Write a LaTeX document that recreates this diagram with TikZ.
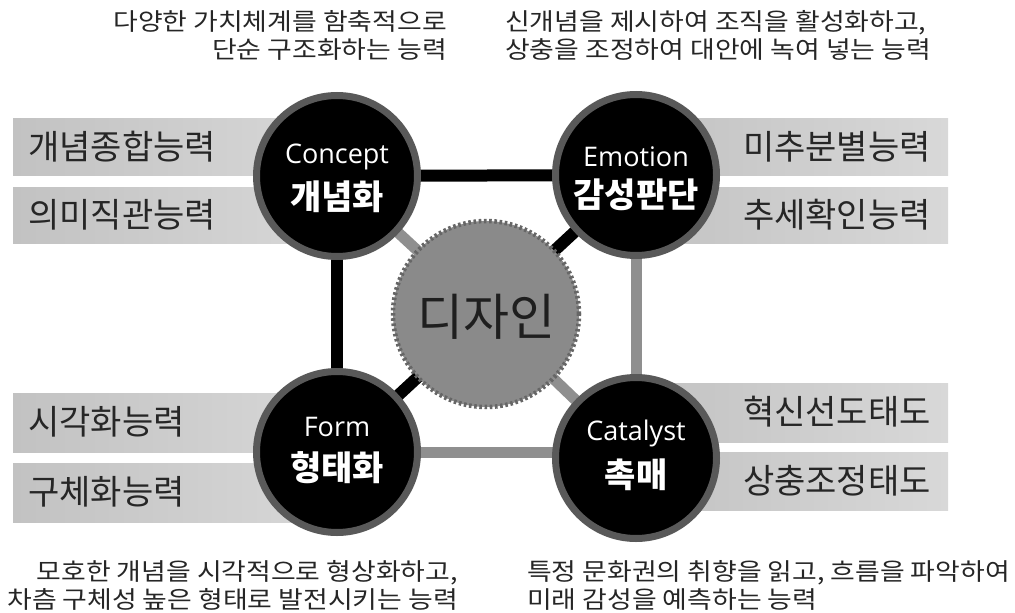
\documentclass[tikz,border=0pt]{standalone}
\usepackage{fontspec}
\newfontfamily\kr{Noto Sans CJK KR}
\newfontfamily\krw[FakeStretch=1.12]{Noto Sans CJK KR}
\newfontfamily\en{Open Sans}
\usetikzlibrary{backgrounds}
\definecolor{ring}{HTML}{595959}
\definecolor{lgray}{HTML}{8F8F8F}
\definecolor{cgray}{HTML}{8A8A8A}
\definecolor{dgray}{HTML}{666666}
\definecolor{barL}{HTML}{C2C2C2}
\definecolor{barR}{HTML}{D8D8D8}
\definecolor{txt}{HTML}{262626}
\begin{document}
\begin{tikzpicture}[x=1pt,y=-1pt,
  bar/.style={left color=barL,right color=barR,draw=none},
  barlbl/.style={font=\kr\fontsize{34}{34}\selectfont,text=txt,inner sep=0pt},
  blk/.style={line width=12pt,draw=black},
  gry/.style={line width=11pt,draw=lgray},
  hub/.style={circle,fill=black,draw=ring,line width=7pt,minimum size=161pt,inner sep=0pt},
  entxt/.style={font=\en\fontsize{27}{27}\selectfont,text=white,inner sep=0pt},
  krtxt/.style={font=\kr\bfseries\fontsize{34}{34}\selectfont,text=white,inner sep=0pt},
  note/.style={font=\krw\fontsize{24}{28}\selectfont,text=txt,inner sep=0pt}
]
\useasboundingbox (0,0) rectangle (1015,613);
% bars
\path[bar] (13,118) rectangle (337,175);
\path[bar] (13,187) rectangle (337,243);
\path[bar] (636,118) rectangle (948,175);
\path[bar] (636,187) rectangle (948,243);
\path[bar] (13,393) rectangle (337,452);
\path[bar] (13,463) rectangle (337,522);
\path[bar] (636,383) rectangle (948,442);
\path[bar] (636,452) rectangle (948,510);
% bar labels
\node[barlbl,anchor=west] (b1) at (28,147) {개념종합능력};
\node[barlbl,anchor=west] (b2) at (28,215) {의미직관능력};
\node[barlbl,anchor=east] (b3) at (931,147) {미추분별능력};
\node[barlbl,anchor=east] (b4) at (931,215) {추세확인능력};
\node[barlbl,anchor=west] (b5) at (28,422) {시각화능력};
\node[barlbl,anchor=west] (b6) at (28,492) {구체화능력};
\node[barlbl,anchor=east] (b7) at (931,412) {혁신선도태도};
\node[barlbl,anchor=east] (b8) at (931,481) {상충조정태도};
% center
\node[circle,fill=cgray,draw=dgray,line width=4.5pt,dash pattern=on 2.6pt off 2.6pt,minimum size=186pt,inner sep=0pt] (dz) at (486,314) {};
\node[font=\kr\fontsize{50}{50}\selectfont,text=black!88,inner sep=0pt] (dzt) at (486,317) {디자인};
% hubs
\node[hub] (con) at (337,176) {};
\node[hub] (emo) at (636,175) {};
\node[hub] (frm) at (337,452) {};
\node[hub] (cat) at (636,458) {};
\node[entxt] (conE) at (337,157) {Concept};
\node[krtxt] (conK) at (337,197) {개념화};
\node[entxt] (emoE) at (636,157) {Emotion};
\node[krtxt] (emoK) at (636,195) {감성판단};
\node[entxt] (frmE) at (337,427) {Form};
\node[krtxt] (frmK) at (337,468) {형태화};
\node[entxt] (catE) at (636,433) {Catalyst};
\node[krtxt] (catK) at (636,475) {촉매};
% connectors
\begin{pgfonlayer}{background}
\draw[blk] (con.center) -- (emo.center);
\draw[blk] (con.center) -- (frm.center);
\draw[gry] (emo.center) -- (cat.center);
\draw[gry] (frm.center) -- (frm.center -| cat.center);
\draw[gry] (con.center) -- (dz.center);
\draw[blk] (emo.center) -- (dz.center);
\draw[blk] (frm.center) -- (dz.center);
\draw[gry] (cat.center) -- (dz.center);
\end{pgfonlayer}
% notes
\node[note,anchor=base east] (tl1) at (447,30) {다양한 가치체계를 함축적으로};
\node[note,anchor=base east] (tl2) at (447,58) {단순 구조화하는 능력};
\node[note,anchor=base west] (tr1) at (505,30) {신개념을 제시하여 조직을 활성화하고,};
\node[note,anchor=base west] (tr2) at (505,58) {상충을 조정하여 대안에 녹여 넣는 능력};
\node[note,anchor=base east] (bl1) at (458,580) {모호한 개념을 시각적으로 형상화하고,};
\node[note,anchor=base east] (bl2) at (458,608) {차츰 구체성 높은 형태로 발전시키는 능력};
\node[note,anchor=base west] (br1) at (527,580) {특정 문화권의 취향을 읽고, 흐름을 파악하여};
\node[note,anchor=base west] (br2) at (527,608) {미래 감성을 예측하는 능력};
\end{tikzpicture}
\end{document}
